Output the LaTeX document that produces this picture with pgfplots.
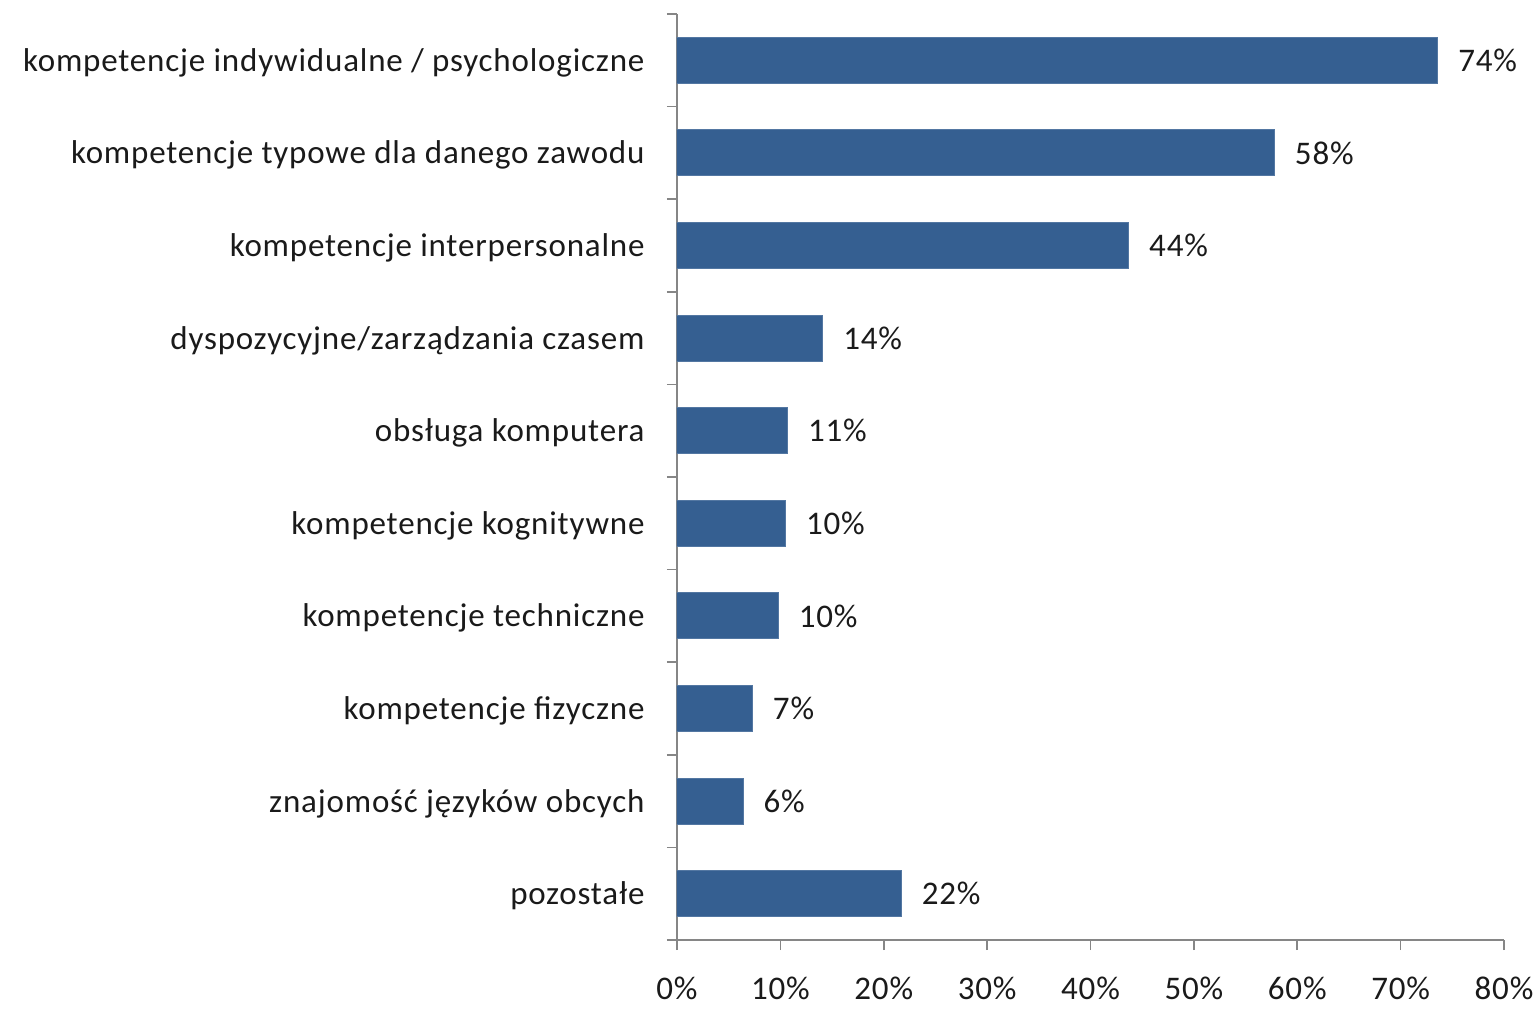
\documentclass[border=0pt]{standalone}
\usepackage{fontspec}
\setmainfont{Carlito}[LetterSpace=2.5]
\usepackage{pgfplots}
\pgfplotsset{compat=1.18}
\definecolor{barblue}{HTML}{355F91}
\definecolor{axisgray}{HTML}{868686}
\definecolor{txt}{HTML}{1A1A1A}
\begin{document}
\begin{tikzpicture}
\path[use as bounding box] (-338.5pt,-34pt) rectangle (429pt,470pt);
\begin{axis}[
    at={(0,0)}, anchor=south west,
    width=413.5pt, height=463pt, scale only axis,
    xbar, bar width=23pt,
    xmin=0, xmax=80,
    ymin=-0.5, ymax=9.5,
    axis lines*=left,
    axis line style={draw=axisgray, line width=0.8pt},
    tick align=outside,
    major tick length=5pt, minor tick length=5pt,
    xtick={0,10,...,80},
    xticklabel={\pgfmathprintnumber{\tick}\%},
    x tick style={draw=axisgray, line width=0.8pt},
    ytick={0,...,9},
    yticklabels={pozostałe, znajomość języków obcych, kompetencje fizyczne,
        kompetencje techniczne, kompetencje kognitywne, obsługa komputera,
        dyspozycyjne/zarządzania czasem, kompetencje interpersonalne,
        kompetencje typowe dla danego zawodu,
        kompetencje indywidualne / psychologiczne},
    minor ytick={-0.5,0.5,...,9.5},
    major y tick style={draw=none},
    minor y tick style={draw=axisgray, line width=0.8pt},
    tick label style={font=\fontsize{16.5pt}{19pt}\selectfont, text=txt},
    /pgf/number format/assume math mode=true,
    yticklabel style={xshift=-7.7pt, yshift=-1.2pt},
    xticklabel style={yshift=-10pt},
    nodes near coords,
    point meta=explicit symbolic,
    nodes near coords style={font=\fontsize{16.5pt}{19pt}\selectfont, text=txt,
        anchor=west, inner sep=0pt, xshift=10pt},
]
\addplot[fill=barblue, draw=barblue!85!white, line width=0.5pt] coordinates {
    (21.7,0) [22\%]
    (6.4,1) [6\%]
    (7.3,2) [7\%]
    (9.8,3) [10\%]
    (10.5,4) [10\%]
    (10.7,5) [11\%]
    (14.1,6) [14\%]
    (43.7,7) [44\%]
    (57.8,8) [58\%]
    (73.6,9) [74\%]
};
\end{axis}
\end{tikzpicture}
\end{document}
